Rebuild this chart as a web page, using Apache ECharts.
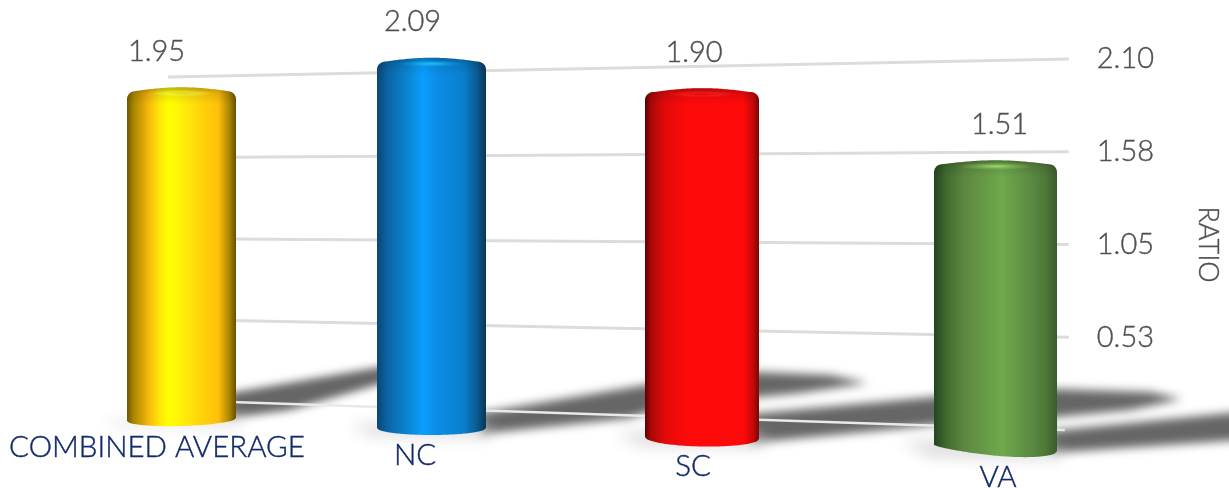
<!DOCTYPE html>
<html>
<head>
<meta charset="utf-8">
<style>html,body{margin:0;padding:0;background:#fff}#c{width:1229px;height:488px}</style>
<script src="https://cdn.jsdelivr.net/npm/echarts@6/dist/echarts.min.js"></script>
</head>
<body>
<div id="c"></div>
<script>
// ---- data ----
const categories = ['COMBINED AVERAGE', 'NC', 'SC', 'VA'];
const ratioValues = [1.95, 2.09, 1.90, 1.51];
const valueLabels = ['1.95', '2.09', '1.90', '1.51'];
const axisTicks = [0, 0.525, 1.05, 1.575, 2.1];
const tickLabels = ['', '0.53', '1.05', '1.58', '2.10'];
const axisName = 'RATIO';

// ---- layout of the perspective view ----
const barLeft = [127, 377, 645, 934];
const barWidth = [109, 109, 114, 123];
const planeTop = [67, 61, 57, 56];
const planeBase = [421, 428, 437, 445];
const baseDepth = [6.5, 7, 8.5, 8];
const baseTilt = [-3, 0, 2, 6];
const baseSkew = [1, 1, 1, 1.5];
const labelDx = [-25, -19, -8, 4];
const catCenter = [157, 415, 693, 998];
const catY = [447, 455, 466, 477];

// ---- colours ----
const barStops = [
  [[0,'#6f5800'],[.06,'#a98500'],[.2,'#f7b80c'],[.3,'#ffe808'],[.38,'#ffff00'],[.5,'#fff00a'],[.62,'#ffdc0a'],[.84,'#ffbe0a'],[.94,'#a88400'],[1,'#665000']],
  [[0,'#0a4672'],[.1,'#0a66a6'],[.3,'#0a88d6'],[.42,'#0a9eff'],[.56,'#0a8ce4'],[.8,'#0a7ecc'],[.92,'#0a5a90'],[1,'#0a3554']],
  [[0,'#5a0000'],[.05,'#a80808'],[.18,'#e40a0a'],[.38,'#ff0a0a'],[.86,'#ff0a0a'],[.95,'#c40808'],[1,'#7a0505']],
  [[0,'#234520'],[.1,'#3f6b30'],[.25,'#5c8840'],[.55,'#6fa94c'],[.75,'#5f8f44'],[.9,'#4f7a3a'],[1,'#3a5c2c']]
];
const highlight = ['rgba(255,255,120,0)', 'rgba(30,200,255,0.9)', 'rgba(255,60,60,0)', 'rgba(166,224,112,0.9)'];
const labelColor = '#505050';
const catColor = '#12296a';
const gridColor = '#dcdcdc';
const fontFamily = 'Lato, "Open Sans", sans-serif';

const shadowShapes = [
  {b:9,c:'#666666',p:[[230,393],[380,367],[420,372],[380,384],[290,410],[230,418]]},
  {b:10,c:'#666666',p:[[480,413],[645,385],[758,372],[830,375],[868,383],[800,393],[758,397],[645,413],[630,418],[480,434]]},
  {b:10,c:'#666666',p:[[750,414],[933,397],[1056,389],[1150,392],[1182,399],[1130,410],[1056,417],[933,425],[895,429],[750,443]]},
  {b:10,c:'#666666',p:[[1050,431],[1240,412],[1240,440],[1050,453]]},
  {b:16,c:'#d0d0d0',p:[[105,422],[240,416],[240,424],[115,425]]},
  {b:16,c:'#d0d0d0',p:[[350,425],[490,426],[490,436],[370,434]]},
  {b:16,c:'#d0d0d0',p:[[615,433],[765,437],[765,446],[640,444]]},
  {b:16,c:'#d0d0d0',p:[[900,441],[1060,450],[1060,458],[930,455]]}
];

const OFF = 3000;
const graphicEls = shadowShapes.map(s => ({
  type: 'polygon', silent: true, z: 0,
  shape: {points: s.p.map(q => [q[0] - OFF, q[1]])},
  style: {fill: '#000', shadowBlur: s.b, shadowColor: s.c, shadowOffsetX: OFF}
}));

function barShape(x0, w, yTop, yBase, depth, tilt, skew) {
  const pts = [], r = 8, cap = 5, n = 60;
  const topAt = t => yTop - cap * Math.sin(Math.PI * t);
  const edge = topAt(r / w);
  for (let a = 0; a <= 6; a++) {
    const ang = Math.PI + a / 6 * Math.PI / 2;
    pts.push([x0 + r + r * Math.cos(ang), edge + r + r * Math.sin(ang)]);
  }
  for (let i = 1; i < n; i++) {
    const t = i / n;
    if (t * w > r && t * w < w - r) pts.push([x0 + t * w, topAt(t)]);
  }
  for (let a = 0; a <= 6; a++) {
    const ang = -Math.PI / 2 + a / 6 * Math.PI / 2;
    pts.push([x0 + w - r + r * Math.cos(ang), edge + r + r * Math.sin(ang)]);
  }
  for (let i = n; i >= 0; i--) {
    const t = i / n;
    const u = Math.pow(t, skew);
    pts.push([x0 + t * w, yBase + tilt * t + depth * Math.sqrt(Math.max(0, 1 - (2 * u - 1) * (2 * u - 1)))]);
  }
  return pts;
}

function barRender(i) {
  return function (params, api) {
    const cat = api.value(0), val = api.value(1);
    const top = api.coord([cat, val]);
    const base = api.coord([cat, 0]);
    const w = api.size([1, 0])[0];
    const x0 = top[0] - w / 2;
    const pts = barShape(x0, w, top[1], base[1], baseDepth[i], baseTilt[i], baseSkew[i]);
    const capPts = barShape(x0, w, top[1], top[1] + 12, 0, 0, 1);
    const txt = (text, x, y, color, size) => ({
      type: 'text',
      style: {text, x, y, fill: color, fontSize: size, fontFamily, fontWeight: 300, textAlign: 'center', textVerticalAlign: 'middle',
        stroke: color, lineWidth: 0.4}
    });
    const cx = top[0];
    return {
      type: 'group',
      children: [
        {type: 'polygon', shape: {points: pts}, style: {
          fill: new echarts.graphic.LinearGradient(0, 0, 1, 0, barStops[i].map(s => ({offset: s[0], color: s[1]})))
        }},
        {type: 'polygon', shape: {points: capPts}, style: {
          fill: new echarts.graphic.LinearGradient(0, 0, 0, 1, [
            {offset: 0, color: 'rgba(0,0,0,0.28)'}, {offset: 0.35, color: 'rgba(0,0,0,0.10)'}, {offset: 1, color: 'rgba(0,0,0,0)'}
          ])
        }},
        {type: 'circle', shape: {cx, cy: top[1] + 1, r: w * 0.3}, scaleY: 0.1, originX: cx, originY: top[1] + 1,
          style: {fill: new echarts.graphic.RadialGradient(0.5, 0.5, 0.5, [
            {offset: 0, color: highlight[i]}, {offset: 0.5, color: highlight[i].replace(/[\d.]+\)$/, '0.35)')}, {offset: 1, color: highlight[i].replace(/[\d.]+\)$/, '0)')}
          ])}},
        txt(valueLabels[i], cx + labelDx[i], top[1] - 41, labelColor, 29),
        txt(categories[i], catCenter[i], catY[i], catColor, 29.5)
      ]
    };
  };
}

function gridRender(params, api) {
  const v = api.value(0);
  const p = api.coord([0, v]);
  const rightX = params.coordSys.x + params.coordSys.width;
  const leftX = params.coordSys.x;
  const yLeft = 77 + (p[1] - 59) * (323 / 371);
  const isZero = v === 0;
  const startFrac = v >= 2.1 ? 0 : 0.07;
  const sx = leftX + (rightX - leftX) * startFrac;
  const sy = yLeft + (p[1] - yLeft) * startFrac;
  return {
    type: 'line',
    shape: {x1: sx, y1: sy, x2: isZero ? rightX - 4 : rightX, y2: p[1]},
    style: {stroke: isZero ? '#e9e9e9' : gridColor, lineWidth: isZero ? 2.5 : 3}
  };
}

const grids = [{left: 168, right: 159, top: 59, height: 371}];
const xAxes = [{type: 'category', gridIndex: 0, data: [''], show: false}];
const yAxes = [{
  type: 'value', gridIndex: 0, position: 'right', min: 0, max: 2.1, interval: 0.525,
  splitLine: {show: false}, axisLine: {show: false}, axisTick: {show: false},
  axisLabel: {margin: 28, color: labelColor, fontSize: 29, fontWeight: 300, fontFamily, padding: [3, 0, 0, 0],
    textBorderColor: labelColor, textBorderWidth: 0.4,
    formatter: v => tickLabels[Math.round(v / 0.525)]},
  name: axisName, nameLocation: 'middle', nameRotate: -90, nameGap: 125,
  nameTextStyle: {color: labelColor, fontSize: 27, fontWeight: 300, fontFamily, textBorderColor: labelColor, textBorderWidth: 0.4}
}];
const series = [{
  type: 'custom', xAxisIndex: 0, yAxisIndex: 0, z: 1, silent: true,
  clip: false, renderItem: gridRender, encode: {y: 0},
  data: axisTicks.map(v => [v])
}];

categories.forEach((c, i) => {
  grids.push({left: barLeft[i], width: barWidth[i], top: planeTop[i], height: planeBase[i] - planeTop[i]});
  xAxes.push({type: 'category', gridIndex: i + 1, data: [c], show: false});
  yAxes.push({type: 'value', gridIndex: i + 1, min: 0, max: 2.1, show: false});
  series.push({
    type: 'custom', xAxisIndex: i + 1, yAxisIndex: i + 1, z: 3 + i, silent: true, clip: false,
    renderItem: barRender(i), encode: {x: 0, y: 1},
    data: [[0, ratioValues[i]]]
  });
});

const chart = echarts.init(document.getElementById('c'), null, {renderer: 'canvas'});
chart.setOption({
  animation: false,
  backgroundColor: '#fff',
  graphic: {elements: graphicEls},
  grid: grids, xAxis: xAxes, yAxis: yAxes, series
});
</script>
</body>
</html>
